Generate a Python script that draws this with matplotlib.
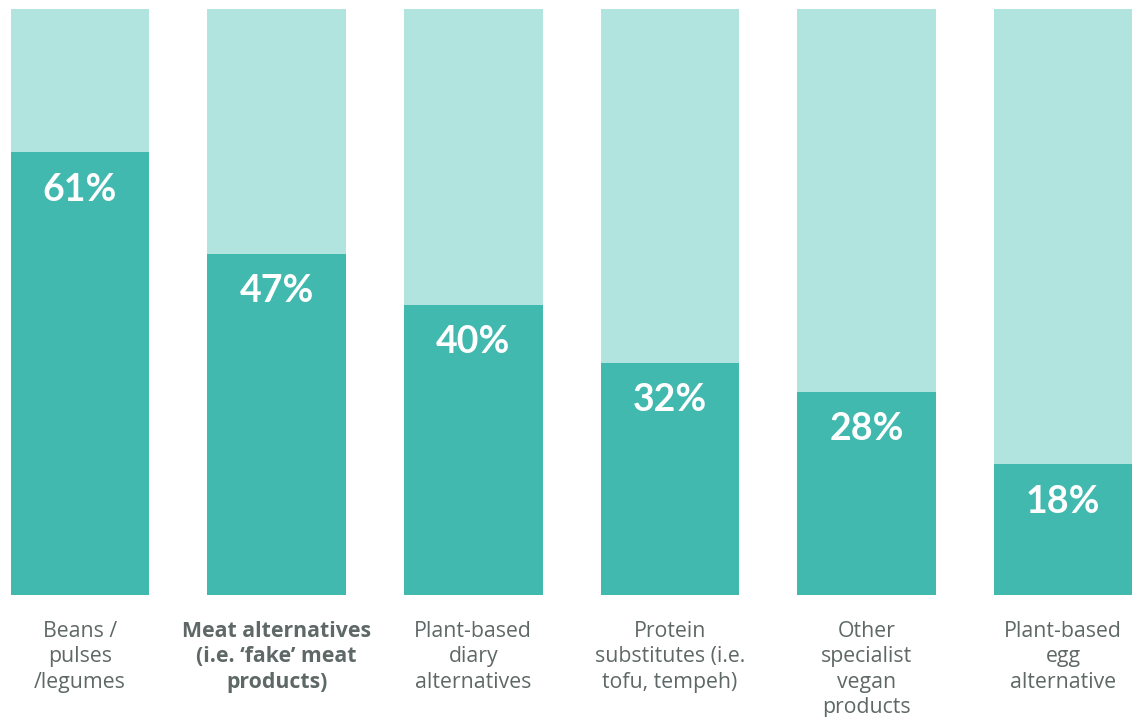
import matplotlib
matplotlib.use("Agg")
import matplotlib.pyplot as plt
from matplotlib.transforms import blended_transform_factory

plt.rcParams['font.family'] = ['Lato', 'DejaVu Sans']

categories = [
    "Beans /\npulses\n/legumes",
    "Meat alternatives\n(i.e. \u2018fake\u2019 meat\nproducts)",
    "Plant-based\ndiary\nalternatives",
    "Protein\nsubstitutes (i.e.\ntofu, tempeh)",
    "Other\nspecialist\nvegan\nproducts",
    "Plant-based\negg\nalternative",
]
values = [61, 47, 40, 32, 28, 18]
remainder = [100 - v for v in values]
bold_category = 1

DARK = "#41B9AF"
LIGHT = "#B2E4DF"
TEXT = "#5E6866"

fig = plt.figure(figsize=(11.33, 7.17), dpi=100)
ax = fig.add_axes([0, 122 / 717, 1, 586 / 717])

x = list(range(len(values)))
ax.bar(x, values, width=0.705, color=DARK, linewidth=0)
ax.bar(x, remainder, bottom=values, width=0.705, color=LIGHT, linewidth=0)

ax.set_xlim(-0.407, 5.356)
ax.set_ylim(0, 80.7)
ax.axis("off")

for xi, v in zip(x, values):
    ax.text(xi, v - 5.2, f"{v}%", ha="center", va="center",
            color="white", fontsize=27, fontweight="bold")

trans = blended_transform_factory(ax.transData, ax.transAxes)
for i, (xi, label) in enumerate(zip(x, categories)):
    ax.text(xi, -0.045, label, transform=trans, ha="center", va="top",
            color=TEXT, fontsize=15.3, linespacing=1.255,
            family=["Open Sans", "DejaVu Sans"],
            fontweight="bold" if i == bold_category else "normal")

fig.savefig("out.png", dpi=100)
